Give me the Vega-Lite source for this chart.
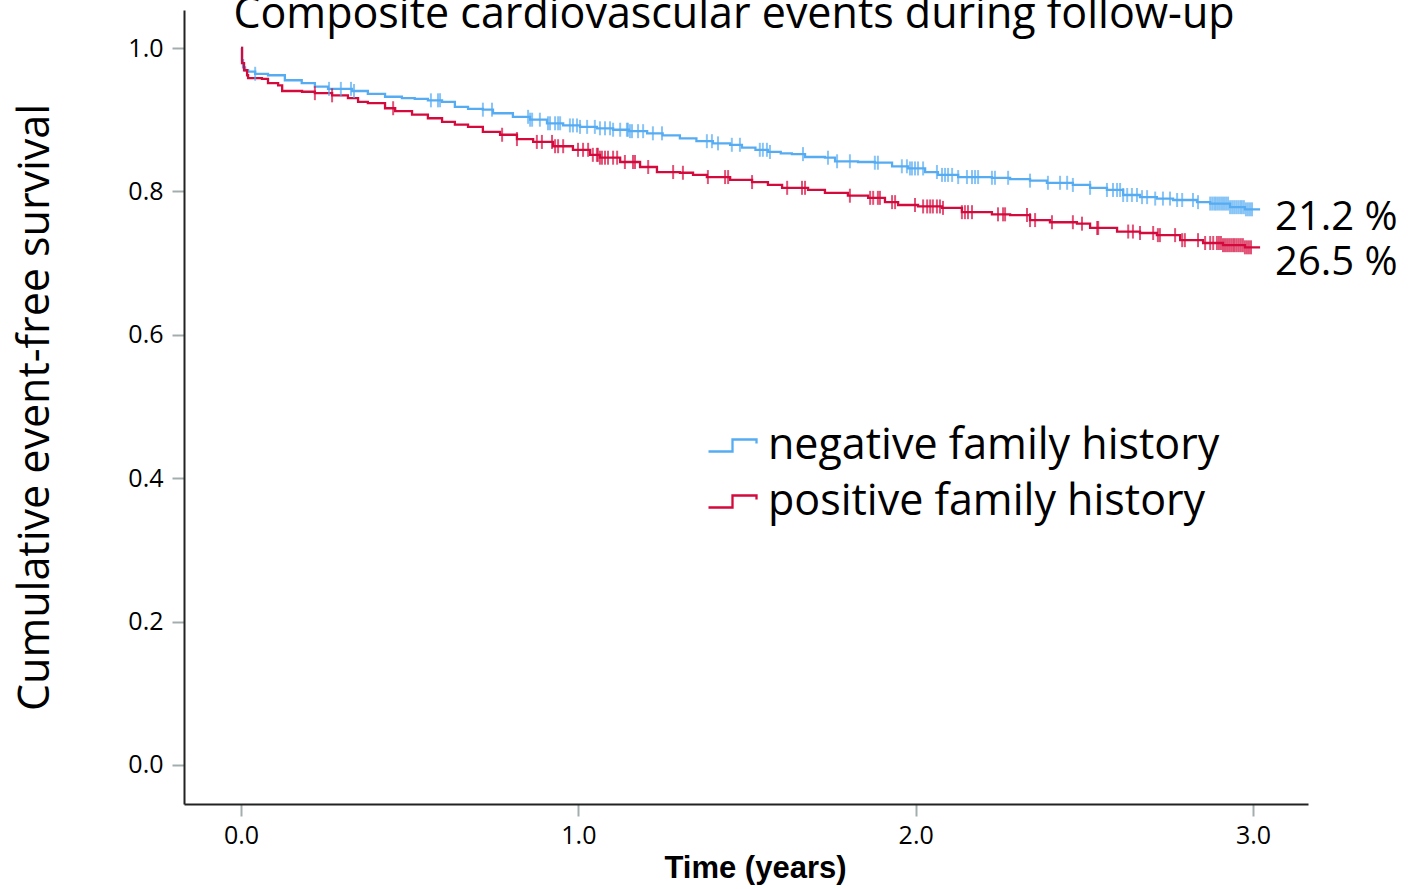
{
  "$schema": "https://vega.github.io/schema/vega-lite/v6.json",
  "width": 1124,
  "height": 794,
  "autosize": "none",
  "padding": {"left": 184, "top": 10, "right": 110, "bottom": 85},
  "background": "white",
  "config": {"view": {"stroke": null}, "font": "Open Sans"},
  "title": {"text": "Composite cardiovascular events during follow-up", "fontSize": 43, "font": "Open Sans", "fontWeight": "normal", "color": "#000", "anchor": "middle", "frame": "group", "dx": -12, "dy": 40, "baseline": "alphabetic", "offset": -21},
  "datasets": {
    "curve": [
      {"g": "negative family history", "t": 0, "s": 1.0},
      {"g": "negative family history", "t": 0.003, "s": 0.983},
      {"g": "negative family history", "t": 0.006, "s": 0.973},
      {"g": "negative family history", "t": 0.012, "s": 0.969},
      {"g": "negative family history", "t": 0.021, "s": 0.967},
      {"g": "negative family history", "t": 0.042, "s": 0.964},
      {"g": "negative family history", "t": 0.080, "s": 0.962},
      {"g": "negative family history", "t": 0.130, "s": 0.955},
      {"g": "negative family history", "t": 0.180, "s": 0.951},
      {"g": "negative family history", "t": 0.219, "s": 0.946},
      {"g": "negative family history", "t": 0.258, "s": 0.943},
      {"g": "negative family history", "t": 0.329, "s": 0.940},
      {"g": "negative family history", "t": 0.376, "s": 0.936},
      {"g": "negative family history", "t": 0.427, "s": 0.932},
      {"g": "negative family history", "t": 0.477, "s": 0.930},
      {"g": "negative family history", "t": 0.515, "s": 0.929},
      {"g": "negative family history", "t": 0.554, "s": 0.927},
      {"g": "negative family history", "t": 0.596, "s": 0.925},
      {"g": "negative family history", "t": 0.634, "s": 0.918},
      {"g": "negative family history", "t": 0.673, "s": 0.915},
      {"g": "negative family history", "t": 0.717, "s": 0.914},
      {"g": "negative family history", "t": 0.747, "s": 0.909},
      {"g": "negative family history", "t": 0.806, "s": 0.904},
      {"g": "negative family history", "t": 0.857, "s": 0.900},
      {"g": "negative family history", "t": 0.907, "s": 0.895},
      {"g": "negative family history", "t": 0.955, "s": 0.892},
      {"g": "negative family history", "t": 1.005, "s": 0.890},
      {"g": "negative family history", "t": 1.055, "s": 0.888},
      {"g": "negative family history", "t": 1.103, "s": 0.886},
      {"g": "negative family history", "t": 1.150, "s": 0.884},
      {"g": "negative family history", "t": 1.204, "s": 0.881},
      {"g": "negative family history", "t": 1.250, "s": 0.878},
      {"g": "negative family history", "t": 1.301, "s": 0.874},
      {"g": "negative family history", "t": 1.350, "s": 0.870},
      {"g": "negative family history", "t": 1.399, "s": 0.867},
      {"g": "negative family history", "t": 1.450, "s": 0.865},
      {"g": "negative family history", "t": 1.485, "s": 0.861},
      {"g": "negative family history", "t": 1.525, "s": 0.858},
      {"g": "negative family history", "t": 1.562, "s": 0.855},
      {"g": "negative family history", "t": 1.600, "s": 0.853},
      {"g": "negative family history", "t": 1.633, "s": 0.852},
      {"g": "negative family history", "t": 1.672, "s": 0.848},
      {"g": "negative family history", "t": 1.731, "s": 0.847},
      {"g": "negative family history", "t": 1.761, "s": 0.842},
      {"g": "negative family history", "t": 1.829, "s": 0.841},
      {"g": "negative family history", "t": 1.879, "s": 0.840},
      {"g": "negative family history", "t": 1.930, "s": 0.835},
      {"g": "negative family history", "t": 1.977, "s": 0.832},
      {"g": "negative family history", "t": 2.028, "s": 0.827},
      {"g": "negative family history", "t": 2.066, "s": 0.823},
      {"g": "negative family history", "t": 2.126, "s": 0.820},
      {"g": "negative family history", "t": 2.226, "s": 0.819},
      {"g": "negative family history", "t": 2.280, "s": 0.817},
      {"g": "negative family history", "t": 2.339, "s": 0.815},
      {"g": "negative family history", "t": 2.389, "s": 0.812},
      {"g": "negative family history", "t": 2.466, "s": 0.809},
      {"g": "negative family history", "t": 2.517, "s": 0.805},
      {"g": "negative family history", "t": 2.567, "s": 0.802},
      {"g": "negative family history", "t": 2.615, "s": 0.795},
      {"g": "negative family history", "t": 2.665, "s": 0.792},
      {"g": "negative family history", "t": 2.715, "s": 0.790},
      {"g": "negative family history", "t": 2.763, "s": 0.788},
      {"g": "negative family history", "t": 2.834, "s": 0.785},
      {"g": "negative family history", "t": 2.873, "s": 0.783},
      {"g": "negative family history", "t": 2.932, "s": 0.778},
      {"g": "negative family history", "t": 2.976, "s": 0.775},
      {"g": "negative family history", "t": 3.021, "s": 0.775},
      {"g": "positive family history", "t": 0, "s": 1.0},
      {"g": "positive family history", "t": 0.003, "s": 0.979},
      {"g": "positive family history", "t": 0.009, "s": 0.969},
      {"g": "positive family history", "t": 0.018, "s": 0.962},
      {"g": "positive family history", "t": 0.021, "s": 0.958},
      {"g": "positive family history", "t": 0.062, "s": 0.957},
      {"g": "positive family history", "t": 0.080, "s": 0.951},
      {"g": "positive family history", "t": 0.110, "s": 0.948},
      {"g": "positive family history", "t": 0.122, "s": 0.940},
      {"g": "positive family history", "t": 0.181, "s": 0.939},
      {"g": "positive family history", "t": 0.219, "s": 0.937},
      {"g": "positive family history", "t": 0.270, "s": 0.934},
      {"g": "positive family history", "t": 0.317, "s": 0.930},
      {"g": "positive family history", "t": 0.347, "s": 0.925},
      {"g": "positive family history", "t": 0.376, "s": 0.923},
      {"g": "positive family history", "t": 0.427, "s": 0.916},
      {"g": "positive family history", "t": 0.457, "s": 0.912},
      {"g": "positive family history", "t": 0.507, "s": 0.907},
      {"g": "positive family history", "t": 0.554, "s": 0.902},
      {"g": "positive family history", "t": 0.596, "s": 0.897},
      {"g": "positive family history", "t": 0.634, "s": 0.893},
      {"g": "positive family history", "t": 0.673, "s": 0.890},
      {"g": "positive family history", "t": 0.717, "s": 0.883},
      {"g": "positive family history", "t": 0.768, "s": 0.879},
      {"g": "positive family history", "t": 0.818, "s": 0.873},
      {"g": "positive family history", "t": 0.866, "s": 0.869},
      {"g": "positive family history", "t": 0.925, "s": 0.863},
      {"g": "positive family history", "t": 0.984, "s": 0.858},
      {"g": "positive family history", "t": 1.035, "s": 0.851},
      {"g": "positive family history", "t": 1.064, "s": 0.847},
      {"g": "positive family history", "t": 1.124, "s": 0.841},
      {"g": "positive family history", "t": 1.183, "s": 0.834},
      {"g": "positive family history", "t": 1.233, "s": 0.827},
      {"g": "positive family history", "t": 1.301, "s": 0.826},
      {"g": "positive family history", "t": 1.340, "s": 0.823},
      {"g": "positive family history", "t": 1.381, "s": 0.820},
      {"g": "positive family history", "t": 1.450, "s": 0.816},
      {"g": "positive family history", "t": 1.515, "s": 0.813},
      {"g": "positive family history", "t": 1.562, "s": 0.809},
      {"g": "positive family history", "t": 1.604, "s": 0.805},
      {"g": "positive family history", "t": 1.681, "s": 0.802},
      {"g": "positive family history", "t": 1.731, "s": 0.798},
      {"g": "positive family history", "t": 1.799, "s": 0.794},
      {"g": "positive family history", "t": 1.859, "s": 0.791},
      {"g": "positive family history", "t": 1.909, "s": 0.785},
      {"g": "positive family history", "t": 1.948, "s": 0.781},
      {"g": "positive family history", "t": 2.007, "s": 0.779},
      {"g": "positive family history", "t": 2.078, "s": 0.777},
      {"g": "positive family history", "t": 2.137, "s": 0.771},
      {"g": "positive family history", "t": 2.226, "s": 0.768},
      {"g": "positive family history", "t": 2.280, "s": 0.767},
      {"g": "positive family history", "t": 2.339, "s": 0.760},
      {"g": "positive family history", "t": 2.398, "s": 0.757},
      {"g": "positive family history", "t": 2.478, "s": 0.755},
      {"g": "positive family history", "t": 2.517, "s": 0.749},
      {"g": "positive family history", "t": 2.597, "s": 0.744},
      {"g": "positive family history", "t": 2.665, "s": 0.742},
      {"g": "positive family history", "t": 2.715, "s": 0.739},
      {"g": "positive family history", "t": 2.784, "s": 0.732},
      {"g": "positive family history", "t": 2.852, "s": 0.728},
      {"g": "positive family history", "t": 2.911, "s": 0.725},
      {"g": "positive family history", "t": 2.976, "s": 0.722},
      {"g": "positive family history", "t": 3.021, "s": 0.722}
    ],
    "cens": [
      {"g": "negative family history", "t": 0.042, "s": 0.964},
      {"g": "negative family history", "t": 0.261, "s": 0.943},
      {"g": "negative family history", "t": 0.296, "s": 0.943},
      {"g": "negative family history", "t": 0.326, "s": 0.943},
      {"g": "negative family history", "t": 0.335, "s": 0.940},
      {"g": "negative family history", "t": 0.563, "s": 0.927},
      {"g": "negative family history", "t": 0.584, "s": 0.927},
      {"g": "negative family history", "t": 0.590, "s": 0.927},
      {"g": "negative family history", "t": 0.717, "s": 0.914},
      {"g": "negative family history", "t": 0.744, "s": 0.914},
      {"g": "negative family history", "t": 0.851, "s": 0.904},
      {"g": "negative family history", "t": 0.857, "s": 0.900},
      {"g": "negative family history", "t": 0.863, "s": 0.900},
      {"g": "negative family history", "t": 0.886, "s": 0.900},
      {"g": "negative family history", "t": 0.910, "s": 0.895},
      {"g": "negative family history", "t": 0.916, "s": 0.895},
      {"g": "negative family history", "t": 0.931, "s": 0.895},
      {"g": "negative family history", "t": 0.940, "s": 0.895},
      {"g": "negative family history", "t": 0.946, "s": 0.895},
      {"g": "negative family history", "t": 0.975, "s": 0.892},
      {"g": "negative family history", "t": 0.984, "s": 0.892},
      {"g": "negative family history", "t": 0.996, "s": 0.892},
      {"g": "negative family history", "t": 1.005, "s": 0.890},
      {"g": "negative family history", "t": 1.026, "s": 0.890},
      {"g": "negative family history", "t": 1.049, "s": 0.890},
      {"g": "negative family history", "t": 1.064, "s": 0.888},
      {"g": "negative family history", "t": 1.079, "s": 0.888},
      {"g": "negative family history", "t": 1.094, "s": 0.888},
      {"g": "negative family history", "t": 1.103, "s": 0.886},
      {"g": "negative family history", "t": 1.124, "s": 0.886},
      {"g": "negative family history", "t": 1.144, "s": 0.886},
      {"g": "negative family history", "t": 1.147, "s": 0.886},
      {"g": "negative family history", "t": 1.153, "s": 0.884},
      {"g": "negative family history", "t": 1.159, "s": 0.884},
      {"g": "negative family history", "t": 1.177, "s": 0.884},
      {"g": "negative family history", "t": 1.192, "s": 0.884},
      {"g": "negative family history", "t": 1.221, "s": 0.881},
      {"g": "negative family history", "t": 1.248, "s": 0.881},
      {"g": "negative family history", "t": 1.381, "s": 0.870},
      {"g": "negative family history", "t": 1.396, "s": 0.870},
      {"g": "negative family history", "t": 1.414, "s": 0.867},
      {"g": "negative family history", "t": 1.455, "s": 0.865},
      {"g": "negative family history", "t": 1.479, "s": 0.865},
      {"g": "negative family history", "t": 1.538, "s": 0.858},
      {"g": "negative family history", "t": 1.547, "s": 0.858},
      {"g": "negative family history", "t": 1.559, "s": 0.858},
      {"g": "negative family history", "t": 1.568, "s": 0.855},
      {"g": "negative family history", "t": 1.666, "s": 0.852},
      {"g": "negative family history", "t": 1.740, "s": 0.847},
      {"g": "negative family history", "t": 1.767, "s": 0.842},
      {"g": "negative family history", "t": 1.805, "s": 0.842},
      {"g": "negative family history", "t": 1.879, "s": 0.840},
      {"g": "negative family history", "t": 1.888, "s": 0.840},
      {"g": "negative family history", "t": 1.959, "s": 0.835},
      {"g": "negative family history", "t": 1.974, "s": 0.835},
      {"g": "negative family history", "t": 1.983, "s": 0.832},
      {"g": "negative family history", "t": 1.989, "s": 0.832},
      {"g": "negative family history", "t": 1.998, "s": 0.832},
      {"g": "negative family history", "t": 2.007, "s": 0.832},
      {"g": "negative family history", "t": 2.022, "s": 0.832},
      {"g": "negative family history", "t": 2.063, "s": 0.827},
      {"g": "negative family history", "t": 2.078, "s": 0.823},
      {"g": "negative family history", "t": 2.087, "s": 0.823},
      {"g": "negative family history", "t": 2.096, "s": 0.823},
      {"g": "negative family history", "t": 2.108, "s": 0.823},
      {"g": "negative family history", "t": 2.126, "s": 0.820},
      {"g": "negative family history", "t": 2.152, "s": 0.820},
      {"g": "negative family history", "t": 2.167, "s": 0.820},
      {"g": "negative family history", "t": 2.176, "s": 0.820},
      {"g": "negative family history", "t": 2.185, "s": 0.820},
      {"g": "negative family history", "t": 2.226, "s": 0.819},
      {"g": "negative family history", "t": 2.235, "s": 0.819},
      {"g": "negative family history", "t": 2.274, "s": 0.819},
      {"g": "negative family history", "t": 2.339, "s": 0.815},
      {"g": "negative family history", "t": 2.392, "s": 0.812},
      {"g": "negative family history", "t": 2.428, "s": 0.812},
      {"g": "negative family history", "t": 2.449, "s": 0.812},
      {"g": "negative family history", "t": 2.466, "s": 0.809},
      {"g": "negative family history", "t": 2.517, "s": 0.805},
      {"g": "negative family history", "t": 2.567, "s": 0.802},
      {"g": "negative family history", "t": 2.585, "s": 0.802},
      {"g": "negative family history", "t": 2.597, "s": 0.802},
      {"g": "negative family history", "t": 2.606, "s": 0.802},
      {"g": "negative family history", "t": 2.615, "s": 0.795},
      {"g": "negative family history", "t": 2.627, "s": 0.795},
      {"g": "negative family history", "t": 2.641, "s": 0.795},
      {"g": "negative family history", "t": 2.656, "s": 0.795},
      {"g": "negative family history", "t": 2.671, "s": 0.792},
      {"g": "negative family history", "t": 2.686, "s": 0.792},
      {"g": "negative family history", "t": 2.710, "s": 0.790},
      {"g": "negative family history", "t": 2.733, "s": 0.790},
      {"g": "negative family history", "t": 2.754, "s": 0.790},
      {"g": "negative family history", "t": 2.775, "s": 0.788},
      {"g": "negative family history", "t": 2.790, "s": 0.788},
      {"g": "negative family history", "t": 2.822, "s": 0.788},
      {"g": "negative family history", "t": 2.837, "s": 0.785},
      {"g": "negative family history", "t": 2.873, "s": 0.783},
      {"g": "negative family history", "t": 2.879, "s": 0.783},
      {"g": "negative family history", "t": 2.885, "s": 0.783},
      {"g": "negative family history", "t": 2.890, "s": 0.783},
      {"g": "negative family history", "t": 2.896, "s": 0.783},
      {"g": "negative family history", "t": 2.902, "s": 0.783},
      {"g": "negative family history", "t": 2.908, "s": 0.783},
      {"g": "negative family history", "t": 2.914, "s": 0.783},
      {"g": "negative family history", "t": 2.920, "s": 0.783},
      {"g": "negative family history", "t": 2.926, "s": 0.783},
      {"g": "negative family history", "t": 2.932, "s": 0.778},
      {"g": "negative family history", "t": 2.938, "s": 0.778},
      {"g": "negative family history", "t": 2.944, "s": 0.778},
      {"g": "negative family history", "t": 2.950, "s": 0.778},
      {"g": "negative family history", "t": 2.956, "s": 0.778},
      {"g": "negative family history", "t": 2.962, "s": 0.778},
      {"g": "negative family history", "t": 2.967, "s": 0.778},
      {"g": "negative family history", "t": 2.973, "s": 0.778},
      {"g": "negative family history", "t": 2.979, "s": 0.775},
      {"g": "negative family history", "t": 2.985, "s": 0.775},
      {"g": "negative family history", "t": 2.991, "s": 0.775},
      {"g": "negative family history", "t": 2.997, "s": 0.775},
      {"g": "positive family history", "t": 0.219, "s": 0.937},
      {"g": "positive family history", "t": 0.270, "s": 0.934},
      {"g": "positive family history", "t": 0.451, "s": 0.916},
      {"g": "positive family history", "t": 0.774, "s": 0.879},
      {"g": "positive family history", "t": 0.818, "s": 0.873},
      {"g": "positive family history", "t": 0.877, "s": 0.869},
      {"g": "positive family history", "t": 0.892, "s": 0.869},
      {"g": "positive family history", "t": 0.922, "s": 0.869},
      {"g": "positive family history", "t": 0.931, "s": 0.863},
      {"g": "positive family history", "t": 0.940, "s": 0.863},
      {"g": "positive family history", "t": 0.955, "s": 0.863},
      {"g": "positive family history", "t": 0.999, "s": 0.858},
      {"g": "positive family history", "t": 1.014, "s": 0.858},
      {"g": "positive family history", "t": 1.029, "s": 0.858},
      {"g": "positive family history", "t": 1.043, "s": 0.851},
      {"g": "positive family history", "t": 1.055, "s": 0.851},
      {"g": "positive family history", "t": 1.058, "s": 0.851},
      {"g": "positive family history", "t": 1.064, "s": 0.847},
      {"g": "positive family history", "t": 1.070, "s": 0.847},
      {"g": "positive family history", "t": 1.079, "s": 0.847},
      {"g": "positive family history", "t": 1.088, "s": 0.847},
      {"g": "positive family history", "t": 1.103, "s": 0.847},
      {"g": "positive family history", "t": 1.115, "s": 0.847},
      {"g": "positive family history", "t": 1.138, "s": 0.841},
      {"g": "positive family history", "t": 1.162, "s": 0.841},
      {"g": "positive family history", "t": 1.168, "s": 0.841},
      {"g": "positive family history", "t": 1.207, "s": 0.834},
      {"g": "positive family history", "t": 1.281, "s": 0.827},
      {"g": "positive family history", "t": 1.310, "s": 0.826},
      {"g": "positive family history", "t": 1.384, "s": 0.820},
      {"g": "positive family history", "t": 1.435, "s": 0.820},
      {"g": "positive family history", "t": 1.444, "s": 0.820},
      {"g": "positive family history", "t": 1.515, "s": 0.813},
      {"g": "positive family history", "t": 1.619, "s": 0.805},
      {"g": "positive family history", "t": 1.663, "s": 0.805},
      {"g": "positive family history", "t": 1.672, "s": 0.805},
      {"g": "positive family history", "t": 1.805, "s": 0.794},
      {"g": "positive family history", "t": 1.865, "s": 0.791},
      {"g": "positive family history", "t": 1.874, "s": 0.791},
      {"g": "positive family history", "t": 1.888, "s": 0.791},
      {"g": "positive family history", "t": 1.894, "s": 0.791},
      {"g": "positive family history", "t": 1.930, "s": 0.785},
      {"g": "positive family history", "t": 1.939, "s": 0.785},
      {"g": "positive family history", "t": 1.998, "s": 0.781},
      {"g": "positive family history", "t": 2.022, "s": 0.779},
      {"g": "positive family history", "t": 2.034, "s": 0.779},
      {"g": "positive family history", "t": 2.043, "s": 0.779},
      {"g": "positive family history", "t": 2.051, "s": 0.779},
      {"g": "positive family history", "t": 2.063, "s": 0.779},
      {"g": "positive family history", "t": 2.072, "s": 0.779},
      {"g": "positive family history", "t": 2.081, "s": 0.777},
      {"g": "positive family history", "t": 2.137, "s": 0.771},
      {"g": "positive family history", "t": 2.146, "s": 0.771},
      {"g": "positive family history", "t": 2.155, "s": 0.771},
      {"g": "positive family history", "t": 2.167, "s": 0.771},
      {"g": "positive family history", "t": 2.244, "s": 0.768},
      {"g": "positive family history", "t": 2.259, "s": 0.768},
      {"g": "positive family history", "t": 2.265, "s": 0.768},
      {"g": "positive family history", "t": 2.330, "s": 0.767},
      {"g": "positive family history", "t": 2.339, "s": 0.760},
      {"g": "positive family history", "t": 2.354, "s": 0.760},
      {"g": "positive family history", "t": 2.404, "s": 0.757},
      {"g": "positive family history", "t": 2.466, "s": 0.757},
      {"g": "positive family history", "t": 2.493, "s": 0.755},
      {"g": "positive family history", "t": 2.538, "s": 0.749},
      {"g": "positive family history", "t": 2.541, "s": 0.749},
      {"g": "positive family history", "t": 2.630, "s": 0.744},
      {"g": "positive family history", "t": 2.644, "s": 0.744},
      {"g": "positive family history", "t": 2.665, "s": 0.742},
      {"g": "positive family history", "t": 2.704, "s": 0.742},
      {"g": "positive family history", "t": 2.718, "s": 0.739},
      {"g": "positive family history", "t": 2.724, "s": 0.739},
      {"g": "positive family history", "t": 2.769, "s": 0.739},
      {"g": "positive family history", "t": 2.790, "s": 0.732},
      {"g": "positive family history", "t": 2.798, "s": 0.732},
      {"g": "positive family history", "t": 2.837, "s": 0.732},
      {"g": "positive family history", "t": 2.858, "s": 0.728},
      {"g": "positive family history", "t": 2.873, "s": 0.728},
      {"g": "positive family history", "t": 2.882, "s": 0.728},
      {"g": "positive family history", "t": 2.893, "s": 0.728},
      {"g": "positive family history", "t": 2.899, "s": 0.728},
      {"g": "positive family history", "t": 2.905, "s": 0.728},
      {"g": "positive family history", "t": 2.911, "s": 0.725},
      {"g": "positive family history", "t": 2.917, "s": 0.725},
      {"g": "positive family history", "t": 2.923, "s": 0.725},
      {"g": "positive family history", "t": 2.929, "s": 0.725},
      {"g": "positive family history", "t": 2.935, "s": 0.725},
      {"g": "positive family history", "t": 2.941, "s": 0.725},
      {"g": "positive family history", "t": 2.946, "s": 0.725},
      {"g": "positive family history", "t": 2.952, "s": 0.725},
      {"g": "positive family history", "t": 2.958, "s": 0.725},
      {"g": "positive family history", "t": 2.964, "s": 0.725},
      {"g": "positive family history", "t": 2.970, "s": 0.725},
      {"g": "positive family history", "t": 2.976, "s": 0.722},
      {"g": "positive family history", "t": 2.982, "s": 0.722},
      {"g": "positive family history", "t": 2.988, "s": 0.722},
      {"g": "positive family history", "t": 2.994, "s": 0.722}
    ],
    "labels": [
      {"t": 3.021, "s": 0.763, "label": "21.2 %"},
      {"t": 3.021, "s": 0.700, "label": "26.5 %"}
    ]
  },
  "layer": [
    {
      "data": {"name": "curve"},
      "mark": {"type": "line", "interpolate": "step-after", "strokeWidth": 2.3},
      "encoding": {
        "x": {"field": "t", "type": "quantitative", "scale": {"domain": [-0.169, 3.163], "nice": false, "zero": false},
          "axis": {"values": [0, 1, 2, 3], "format": ".1f", "title": "Time (years)", "titleFont": "Liberation Sans", "titleFontWeight": "bold", "titleFontSize": 31, "titleColor": "#000", "titleX": 571, "titleY": 64, "titleBaseline": "middle", "titleAlign": "center", "labelFontSize": 25, "labelFont": "Open Sans", "labelColor": "#000", "labelPadding": 7, "tickSize": 12, "tickWidth": 2, "tickColor": "#a3adad", "domainColor": "#222", "domainWidth": 2, "grid": false, "labelFlush": false, "labelOverlap": false}},
        "y": {"field": "s", "type": "quantitative", "scale": {"domain": [-0.0544, 1.053], "nice": false, "zero": false},
          "axis": {"values": [0, 0.2, 0.4, 0.6, 0.8, 1], "format": ".1f", "title": "Cumulative event-free survival", "titleFont": "Open Sans", "titleFontWeight": "normal", "titleFontSize": 43, "titleColor": "#000", "titleAngle": -90, "titleX": -149, "titleY": 397, "titleBaseline": "middle", "titleAlign": "center", "labelFontSize": 25, "labelFont": "Open Sans", "labelColor": "#000", "labelPadding": 9, "tickSize": 12, "tickWidth": 2, "tickColor": "#a3adad", "domainColor": "#222", "domainWidth": 2, "grid": false, "labelFlush": false, "labelOverlap": false}},
        "color": {"field": "g", "type": "nominal", "scale": {"domain": ["negative family history", "positive family history"], "range": ["#56acf2", "#d4093c"]},
          "legend": {"orient": "none", "legendX": 523, "legendY": 410, "title": null, "symbolType": "M-1,0.25H0V-0.25H1V-0.08", "symbolSize": 2304, "symbolStrokeWidth": 2.3, "labelFontSize": 43, "labelFont": "Open Sans", "labelColor": "#000", "labelOffset": 10, "rowPadding": 8, "labelLimit": 0, "padding": 0,
            "encode": {"symbols": {"update": {"fill": {"value": "transparent"}, "fillOpacity": {"value": 0}}}}}}
      }
    },
    {
      "data": {"name": "cens"},
      "mark": {"type": "tick", "orient": "vertical", "size": 14, "thickness": 2},
      "encoding": {
        "x": {"field": "t", "type": "quantitative"},
        "y": {"field": "s", "type": "quantitative"},
        "color": {"field": "g", "type": "nominal", "legend": null}
      }
    },
    {
      "data": {"name": "labels"},
      "mark": {"type": "text", "align": "left", "baseline": "middle", "dx": 15, "fontSize": 40, "font": "Open Sans", "color": "#000"},
      "encoding": {
        "x": {"field": "t", "type": "quantitative"},
        "y": {"field": "s", "type": "quantitative"},
        "text": {"field": "label"}
      }
    }
  ]
}
